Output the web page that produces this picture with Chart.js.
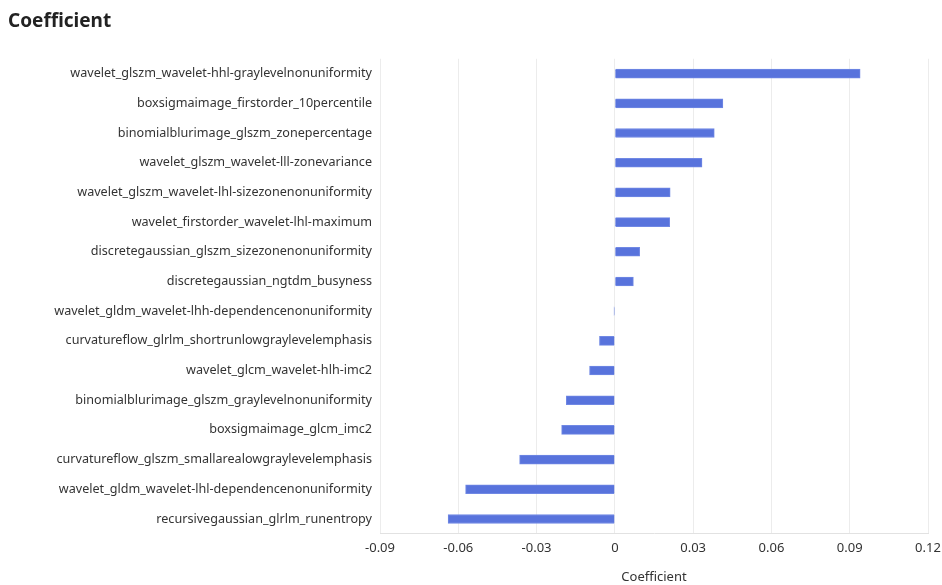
<!DOCTYPE html>
<html lang="en">
<head>
  <meta charset="UTF-8">
  <title>Coefficient</title>
  <script src="https://cdn.jsdelivr.net/npm/chart.js@4.4.0/dist/chart.umd.min.js"></script>
  <style>
    html, body { margin: 0; padding: 0; background: #fff; }
    #chartContainer { width: 942px; height: 585px; }
  </style>
</head>
<body>
  <div id="chartContainer">
    <canvas id="chart"></canvas>
  </div>
  <script>
    // features, top to bottom
    var features = [
      'wavelet_glszm_wavelet-hhl-graylevelnonuniformity',
      'boxsigmaimage_firstorder_10percentile',
      'binomialblurimage_glszm_zonepercentage',
      'wavelet_glszm_wavelet-lll-zonevariance',
      'wavelet_glszm_wavelet-lhl-sizezonenonuniformity',
      'wavelet_firstorder_wavelet-lhl-maximum',
      'discretegaussian_glszm_sizezonenonuniformity',
      'discretegaussian_ngtdm_busyness',
      'wavelet_gldm_wavelet-lhh-dependencenonuniformity',
      'curvatureflow_glrlm_shortrunlowgraylevelemphasis',
      'wavelet_glcm_wavelet-hlh-imc2',
      'binomialblurimage_glszm_graylevelnonuniformity',
      'boxsigmaimage_glcm_imc2',
      'curvatureflow_glszm_smallarealowgraylevelemphasis',
      'wavelet_gldm_wavelet-lhl-dependencenonuniformity',
      'recursivegaussian_glrlm_runentropy'
    ];
    var coefficients = [
      0.0940, 0.0414, 0.0381, 0.0334, 0.0212, 0.0210, 0.0095, 0.0071,
      -0.0003, -0.0059, -0.0097, -0.0186, -0.0204, -0.0365, -0.0572, -0.0639
    ];
    var xTicks = [-0.09, -0.06, -0.03, 0, 0.03, 0.06, 0.09, 0.12];

    var FONT = '"Noto Sans", "Open Sans", sans-serif';

    var ctx = document.getElementById('chart').getContext('2d');
    new Chart(ctx, {
      type: 'bar',
      data: {
        labels: features,
        datasets: [{
          label: 'Coefficient',
          data: coefficients,
          backgroundColor: '#5873dc',
          borderColor: '#7088e4',
          borderWidth: 1,
          barThickness: 9
        }]
      },
      options: {
        indexAxis: 'y',
        responsive: true,
        maintainAspectRatio: false,
        animation: false,
        layout: { padding: { left: 8, right: 0, top: 0, bottom: 0 } },
        plugins: {
          legend: { display: false },
          tooltip: { enabled: false },
          title: {
            display: true,
            text: 'Coefficient',
            align: 'start',
            color: '#222',
            font: { family: FONT, size: 19, weight: 'bold' },
            padding: { top: 10, bottom: 26 }
          }
        },
        scales: {
          x: {
            min: -0.09,
            max: 0.12,
            afterBuildTicks: function(scale) {
              scale.ticks = xTicks.map(function(v) { return { value: v }; });
            },
            afterFit: function(scale) { scale.paddingRight = 14; },
            ticks: {
              color: '#333',
              font: { family: FONT, size: 13 },
              padding: 7,
              callback: function(v) { return Math.abs(v) < 1e-9 ? '0' : (+v.toFixed(2)).toString(); }
            },
            grid: { color: '#ececec', drawTicks: false },
            border: { display: true, color: '#e2e2e2' },
            title: {
              display: true,
              text: 'Coefficient',
              color: '#333',
              font: { family: FONT, size: 13 },
              padding: { top: 6, bottom: 0 }
            }
          },
          y: {
            afterFit: function(scale) { scale.width = 372; },
            ticks: {
              color: '#333',
              font: { family: FONT, size: 12.6 },
              padding: 8
            },
            grid: { display: false, drawTicks: false },
            border: { display: false }
          }
        }
      }
    });
  </script>
</body>
</html>
